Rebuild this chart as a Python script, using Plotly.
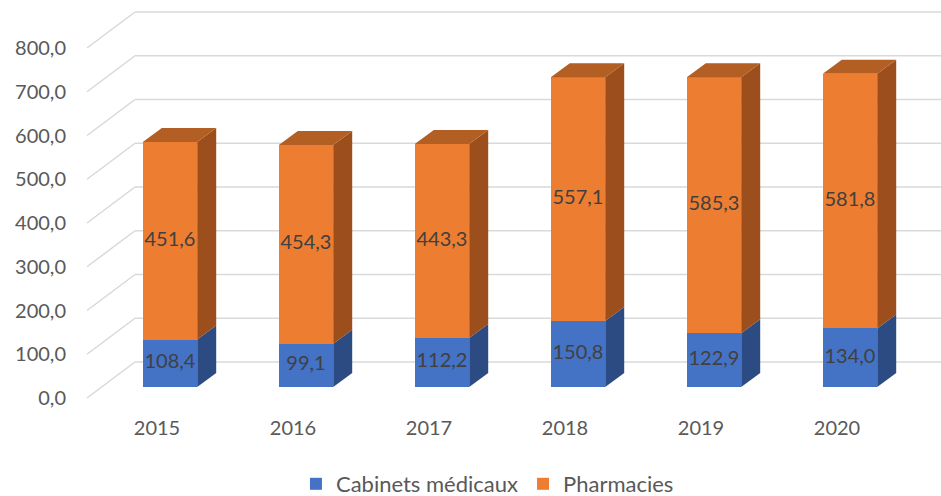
import plotly.graph_objects as go

# ---------------- data ----------------
years = ["2015", "2016", "2017", "2018", "2019", "2020"]
cabinets = [108.4, 99.1, 112.2, 150.8, 122.9, 134.0]
pharmacies = [451.6, 454.3, 443.3, 557.1, 585.3, 581.8]
y_ticks = [0, 100, 200, 300, 400, 500, 600, 700, 800]
series_names = ["Cabinets médicaux", "Pharmacies"]

# ---------------- styling / geometry ----------------
W, H = 941, 496
PX_PER_UNIT = 0.4375      # vertical pixels per value unit
PX_PER_CAT = 136          # horizontal pixels per category
X0_PX = 170               # pixel centre of first category (bar front plane)
Y0_PX = 387               # pixel of value 0 on bar front plane
L, R, T, B = 83, 941, 8, 404
BAR_W = 0.4
BAR_DX_PX, BAR_DY_PX = 19, 14          # bar depth
FLOOR_FRONT_DY_PX = 11                 # floor front plane below bar front plane
FLOOR_BACK_DY_PX = 25                  # floor back plane above bar front plane
FLOOR_FRONT_X_PX, FLOOR_BACK_X_PX = 87, 135
LABEL_SHIFT_PX = 13
LEGEND_Y_PX = 484

BLUE, BLUE_SIDE, BLUE_TOP = "#4472C4", "#2C4B82", "#3A62A8"
ORANGE, ORANGE_SIDE, ORANGE_TOP = "#ED7D31", "#9C4E1C", "#B35E22"
GRID = "#D9D9D9"
FONT = "Lato"

def xd(px):
    return (px - X0_PX) / PX_PER_CAT

def yd(dpx):
    return dpx / PX_PER_UNIT

xs = list(range(len(years)))
x_range = [xd(L), xd(R)]
y_range = [(Y0_PX - B) / PX_PER_UNIT, (Y0_PX - T) / PX_PER_UNIT]
y2_shift = yd(FLOOR_FRONT_DY_PX)
dx, dy = BAR_DX_PX / PX_PER_CAT, yd(BAR_DY_PX)
hw = BAR_W / 2

def fmt(v):
    return f"{v:.1f}".replace(".", ",")

fig = go.Figure()

# front faces
fig.add_trace(go.Bar(x=xs, y=cabinets, width=BAR_W, name=series_names[0],
                     marker=dict(color=BLUE, line=dict(width=0)), hoverinfo="skip"))
fig.add_trace(go.Bar(x=xs, y=pharmacies, width=BAR_W, name=series_names[1],
                     marker=dict(color=ORANGE, line=dict(width=0)), hoverinfo="skip"))

# side and top faces
def side_poly(bases, tops):
    px, py = [], []
    for c, b, t in zip(xs, bases, tops):
        px += [c + hw, c + hw + dx, c + hw + dx, c + hw, c + hw, None]
        py += [b, b + dy, t + dy, t, b, None]
    return px, py

def top_poly(tops):
    px, py = [], []
    for c, t in zip(xs, tops):
        px += [c - hw, c - hw + dx, c + hw + dx, c + hw, c - hw, None]
        py += [t, t + dy, t + dy, t, t, None]
    return px, py

zeros = [0] * len(xs)
tot = [a + b for a, b in zip(cabinets, pharmacies)]
for (bases, tops, col) in [(zeros, cabinets, BLUE_SIDE), (cabinets, tot, ORANGE_SIDE)]:
    px, py = side_poly(bases, tops)
    fig.add_trace(go.Scatter(x=px, y=py, fill="toself", fillcolor=col, mode="lines",
                             line=dict(width=0, color=col), showlegend=False, hoverinfo="skip"))
px, py = top_poly(tot)
fig.add_trace(go.Scatter(x=px, y=py, fill="toself", fillcolor=ORANGE_TOP, mode="lines",
                         line=dict(width=0, color=ORANGE_TOP), showlegend=False, hoverinfo="skip"))

# data labels
fig.add_trace(go.Scatter(x=xs, y=[v / 2 for v in cabinets], mode="text",
                         text=[fmt(v) for v in cabinets],
                         textfont=dict(family=FONT, size=20, color="#404040"),
                         showlegend=False, hoverinfo="skip"))
fig.add_trace(go.Scatter(x=xs, y=[c + v / 2 for c, v in zip(cabinets, pharmacies)], mode="text",
                         text=[fmt(v) for v in pharmacies],
                         textfont=dict(family=FONT, size=20, color="#404040"),
                         showlegend=False, hoverinfo="skip"))

# helper trace for the label axis
fig.add_trace(go.Scatter(x=[xs[0]], y=[0], yaxis="y2", mode="markers",
                         marker=dict(opacity=0), showlegend=False, hoverinfo="skip"))

# gridlines with 3D floor perspective
shapes = []
for v in y_ticks:
    yf = v - yd(FLOOR_FRONT_DY_PX)
    yb = v + yd(FLOOR_BACK_DY_PX)
    shapes.append(dict(type="line", xref="x", yref="y", layer="below",
                       x0=xd(FLOOR_FRONT_X_PX), y0=yf, x1=xd(FLOOR_BACK_X_PX), y1=yb,
                       line=dict(color=GRID, width=1.5)))
    shapes.append(dict(type="line", xref="x", yref="y", layer="below",
                       x0=xd(FLOOR_BACK_X_PX), y0=yb, x1=x_range[1], y1=yb,
                       line=dict(color=GRID, width=1.5)))

fig.update_layout(
    width=W, height=H,
    margin=dict(l=L, r=W - R, t=T, b=H - B, autoexpand=False),
    barmode="stack",
    bargap=0,
    separators=", ",
    plot_bgcolor="white", paper_bgcolor="white",
    font=dict(family=FONT, size=20, color="#595959"),
    shapes=shapes,
    xaxis=dict(range=x_range, tickvals=[i - LABEL_SHIFT_PX / PX_PER_CAT for i in xs],
               ticktext=years, showgrid=False, zeroline=False, showline=False,
               ticks="", ticklabelstandoff=10, fixedrange=True, automargin=False),
    yaxis=dict(range=y_range, showgrid=False, zeroline=False, showline=False,
               showticklabels=False, ticks="", fixedrange=True, automargin=False),
    yaxis2=dict(range=[y_range[0] + y2_shift, y_range[1] + y2_shift], overlaying="y",
                side="left", tickvals=y_ticks, tickformat=".1f", showgrid=False,
                zeroline=False, showline=False, ticks="", ticklabelstandoff=16,
                fixedrange=True, automargin=False),
    legend=dict(orientation="h", xref="container", yref="paper",
                x=0.518, xanchor="center",
                y=-(LEGEND_Y_PX - B) / (B - T), yanchor="middle",
                font=dict(family=FONT, size=22, color="#595959"),
                itemwidth=30, traceorder="normal"),
    showlegend=True,
)

fig.write_html("out.html", config={"displayModeBar": False},
               post_script="document.body.style.margin='0';")
